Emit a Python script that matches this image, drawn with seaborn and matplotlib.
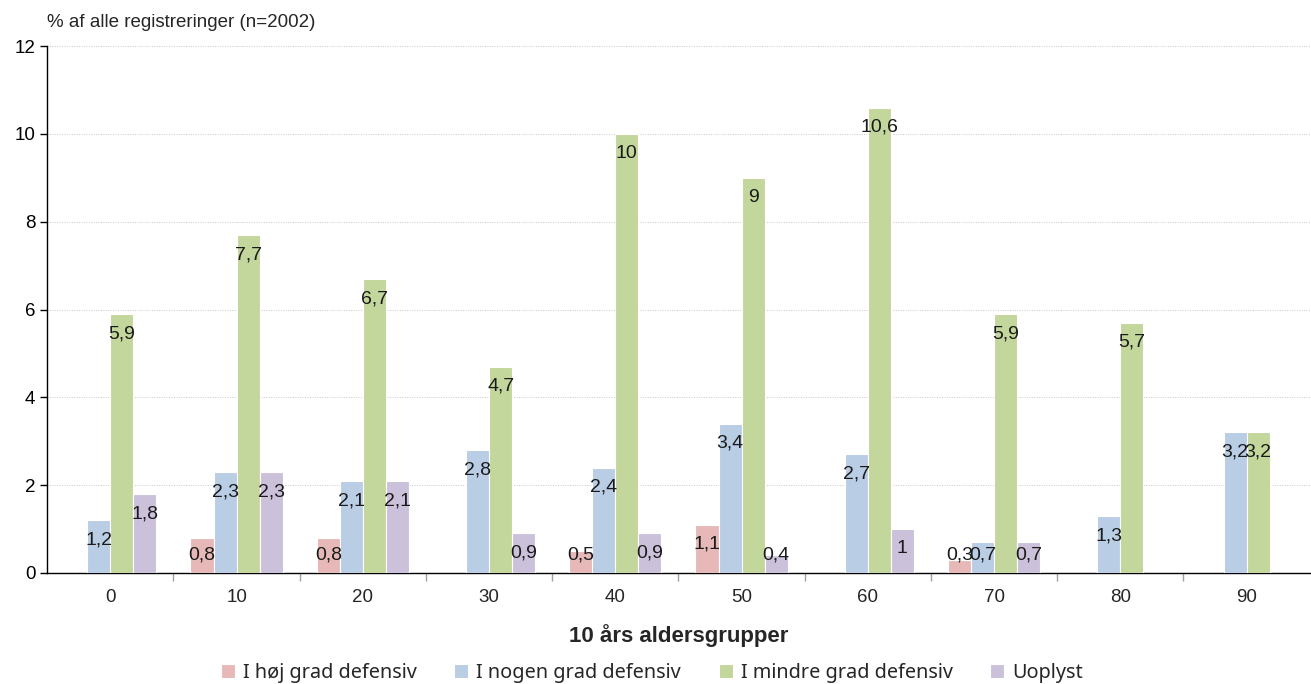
import numpy as np
import pandas as pd
import matplotlib
matplotlib.use("Agg")
import matplotlib.pyplot as plt
import seaborn as sns

# data (nan = no bar)
aldersgrupper = ["0", "10", "20", "30", "40", "50", "60", "70", "80", "90"]
kategorier = ["I høj grad defensiv", "I nogen grad defensiv", "I mindre grad defensiv", "Uoplyst"]
hoej = [np.nan, 0.8, 0.8, np.nan, 0.5, 1.1, np.nan, 0.3, np.nan, np.nan]
nogen = [1.2, 2.3, 2.1, 2.8, 2.4, 3.4, 2.7, 0.7, 1.3, 3.2]
mindre = [5.9, 7.7, 6.7, 4.7, 10, 9, 10.6, 5.9, 5.7, 3.2]
uoplyst = [1.8, 2.3, 2.1, 0.9, 0.9, 0.4, 1, 0.7, np.nan, np.nan]
farver = ["#E6B9B8", "#B9CDE5", "#C3D69B", "#CCC1DA"]

rows = []
for kat, serie in zip(kategorier, [hoej, nogen, mindre, uoplyst]):
    for g, v in zip(aldersgrupper, serie):
        rows.append({"gruppe": g, "kategori": kat, "pct": v})
df = pd.DataFrame(rows)

sns.set_style("white")
plt.rcParams["font.family"] = ["Liberation Sans", "DejaVu Sans"]

fig = plt.figure(figsize=(13.11, 6.84), dpi=100)
ax = fig.add_axes([0.036, 0.1623, 0.963, 0.7704])

sns.barplot(data=df, x="gruppe", y="pct", hue="kategori", order=aldersgrupper,
            hue_order=kategorier, palette=farver, width=0.73, saturation=1,
            edgecolor="white", linewidth=0.8, errorbar=None, ax=ax, zorder=3)

# value labels inside the bar end
for cont in ax.containers:
    for bar in cont:
        h = bar.get_height()
        if np.isnan(h) or h <= 0:
            continue
        txt = f"{h:g}".replace(".", ",")
        ypos = max(h - 0.45, 0.42)
        ax.text(bar.get_x() + bar.get_width() / 2, ypos, txt, ha="center",
                va="center", fontsize=14, color="#1a1a1a", zorder=5)

ax.set_ylim(0, 12)
ax.set_xlim(-0.5, 9.5)
ax.set_yticks(range(0, 13, 2))
ax.yaxis.grid(True, linestyle=(0, (1, 1.5)), color="#c8c8c8", linewidth=0.7, zorder=0)
ax.set_axisbelow(True)
for s in ["top", "right"]:
    ax.spines[s].set_visible(False)
ax.spines["left"].set_color("black")
ax.spines["bottom"].set_color("black")
ax.spines["left"].set_linewidth(1.0)
ax.spines["bottom"].set_linewidth(1.0)

ax.tick_params(axis="y", left=True, length=5, width=1, labelsize=13.5, colors="black")
ax.tick_params(axis="x", bottom=False, labelsize=13.5, pad=8)
ax.set_xticks(np.arange(0.5, 9.5, 1), minor=True)
ax.tick_params(axis="x", which="minor", bottom=True, length=6, color="#a0a0a0", width=1)

ax.set_xlabel("10 års aldersgrupper", fontsize=16, fontweight="bold", labelpad=13)
ax.set_ylabel("")
fig.text(0.036, 0.967, "% af alle registreringer (n=2002)", fontsize=13.5, ha="left", va="center")

handles, labels = ax.get_legend_handles_labels()
ax.legend(handles, labels, loc="center", bbox_to_anchor=(0.479, -0.19), ncol=4,
          frameon=False, handlelength=0.7, handleheight=0.7,
          handletextpad=0.4, columnspacing=1.9,
          prop={"family": ["Noto Sans", "DejaVu Sans"], "size": 14.3})

fig.savefig("out.png", dpi=100)
